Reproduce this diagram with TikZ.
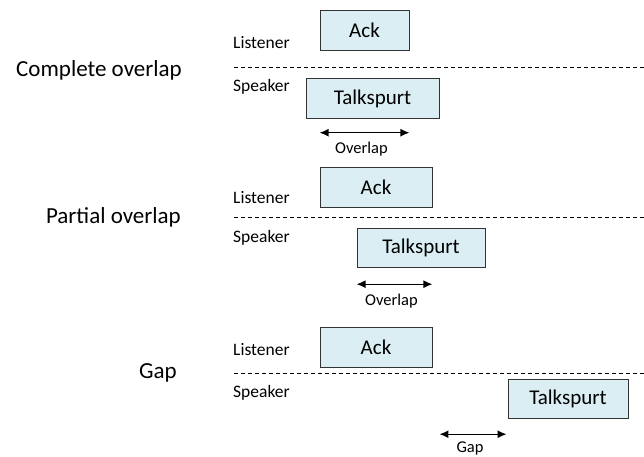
\documentclass[tikz,border=0pt]{standalone}
\usepackage{fontspec}
\setmainfont{Carlito}
\usepackage{xcolor}
\usetikzlibrary{arrows.meta, positioning}
\definecolor{boxblue}{HTML}{DBEEF4}
\tikzset{
  turn/.style={rectangle, draw=black!80, fill=boxblue, line width=0.9pt,
               minimum height=39.5pt, inner sep=0pt,
               font=\fontsize{21}{24}\selectfont},
  role/.style={anchor=west, inner sep=0pt, font=\fontsize{17.5}{20}\selectfont},
  caselabel/.style={anchor=east, inner sep=0pt, font=\fontsize{23}{27}\selectfont},
  floorline/.style={dash pattern=on 4pt off 3pt, line width=0.9pt},
  interval/.style={{Latex[length=9pt,width=8pt]}-{Latex[length=9pt,width=8pt]},
                   line width=1.3pt},
  intlabel/.style={inner sep=0pt, font=\fontsize{16.5}{19}\selectfont},
}

\begin{document}
\begin{tikzpicture}[x=1pt, y=-1pt]
  \useasboundingbox (0,0) rectangle (644,456);

  % Complete overlap
  \node[caselabel] (caseA) at (182,70) {Complete overlap};
  \node[role] (lisA) at (233,43) {Listener};
  \node[role] (spkA) at (233,87) {Speaker};
  \node[turn, minimum width=89pt]  (ackA)  at (364.5,30.5) {Ack};
  \node[turn, minimum width=133pt] (talkA) at (372.5,98.5) {Talkspurt};
  \coordinate (floorAl) at (234,67);
  \coordinate (floorAr) at (644,67);
  \draw[floorline] (floorAl) -- (floorAr);
  \coordinate (ovA1) at ([yshift=-14pt]talkA.south -| ackA.west);
  \coordinate (ovA2) at ([yshift=-14pt]talkA.south -| ackA.east);
  \draw[interval] (ovA1) -- node[intlabel, below=9pt, xshift=-3pt] (ovA) {Overlap} (ovA2);

  % Partial overlap
  \node[caselabel] (caseB) at (181,217) {Partial overlap};
  \node[role] (lisB) at (233,198) {Listener};
  \node[role] (spkB) at (233,238) {Speaker};
  \node[turn, minimum width=112pt] (ackB)  at (376,187.5) {Ack};
  \node[turn, minimum width=128pt] (talkB) at (421,248) {Talkspurt};
  \coordinate (floorBl) at (234,217);
  \coordinate (floorBr) at (644,217);
  \draw[floorline] (floorBl) -- (floorBr);
  \coordinate (ovB1) at ([yshift=-16pt]talkB.south west);
  \coordinate (ovB2) at ([yshift=-16pt]talkB.south -| ackB.east);
  \draw[interval] (ovB1) -- node[intlabel, below=9pt, xshift=-3pt] (ovB) {Overlap} (ovB2);

  % Gap
  \node[caselabel] (caseC) at (177,373) {Gap};
  \node[role] (lisC) at (233,350) {Listener};
  \node[role] (spkC) at (233,393) {Speaker};
  \node[turn, minimum width=112pt] (ackC)  at (376,347.5) {Ack};
  \node[turn, minimum width=120pt] (talkC) at (568,399) {Talkspurt};
  \coordinate (floorCl) at (234,373);
  \coordinate (floorCr) at (644,373);
  \draw[floorline] (floorCl) -- (floorCr);
  \coordinate (gpC1) at ([xshift=7pt, yshift=-15pt]talkC.south -| ackC.east);
  \coordinate (gpC2) at ([xshift=-1pt, yshift=-15pt]talkC.south west);
  \draw[interval] (gpC1) -- node[intlabel, below=7pt, xshift=-3pt] (gpC) {Gap} (gpC2);
\end{tikzpicture}
\end{document}
